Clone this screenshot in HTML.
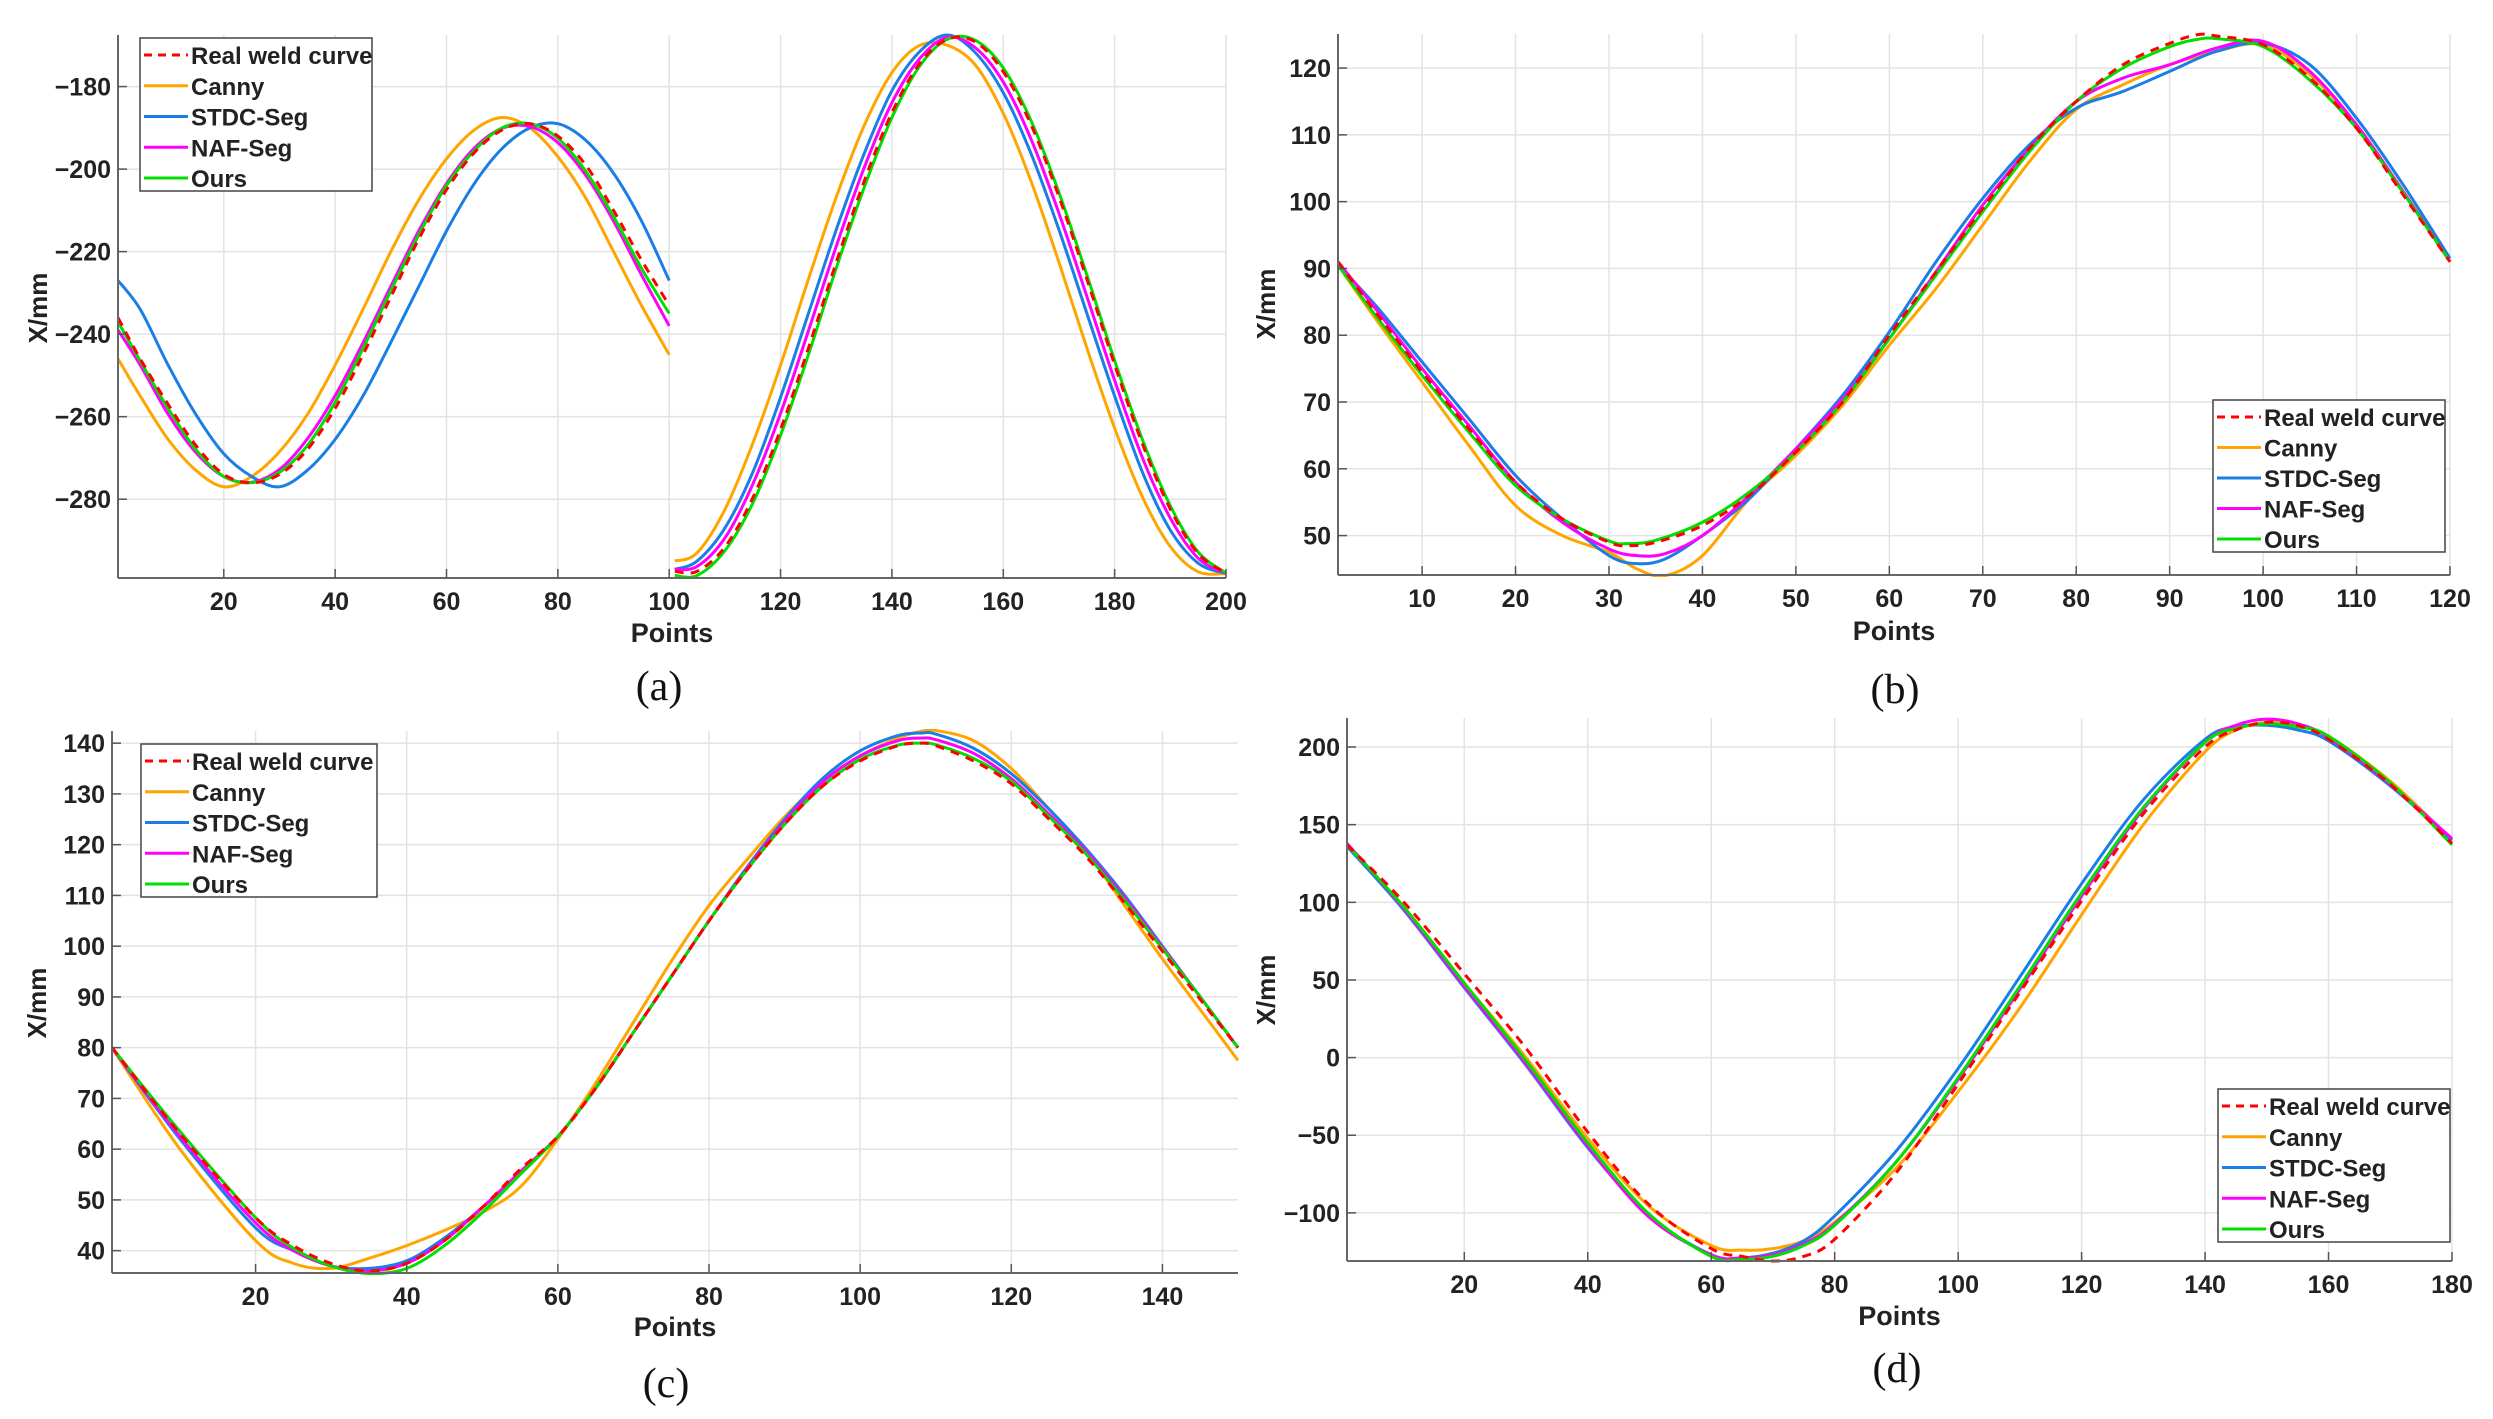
<!DOCTYPE html>
<html><head><meta charset="utf-8"><style>
html,body{margin:0;padding:0;background:#fff;}
svg{display:block;}
text{font-family:"Liberation Sans Narrow","Liberation Sans",sans-serif;font-weight:bold;fill:#222;}
</style></head><body>
<svg id="fig" width="2493" height="1419" viewBox="0 0 2493 1419" xmlns="http://www.w3.org/2000/svg"></svg>
<script>
// ---------- Panel (a) data ----------
const aX1 = [1,5,10,15,20,25,30,35,40,45,50,55,60,65,70,75,80,85,90,95,100];
const aReal1 = [-236,-246,-257,-267,-274,-276,-274,-268,-258,-245,-231,-217,-205,-196,-190.5,-189,-192,-199,-210,-222,-233];
const aCanny1 = [-246,-255,-265.5,-273,-277,-274.5,-268.5,-259.5,-247.5,-234,-220,-207.5,-197.5,-190.5,-187.5,-190,-197,-207,-220,-233,-245];
const aStdc1 = [-227,-234,-247.5,-259.5,-269,-274.5,-277,-273,-265.5,-255,-242,-228.5,-215,-203.5,-195,-190,-189,-193,-201,-212.5,-227];
const aNaf1 = [-239,-247.5,-259.4,-268.7,-274.5,-275.9,-272.8,-265.4,-254.9,-242.1,-228.4,-215,-203.5,-194.9,-190.1,-189.7,-193.6,-201.5,-212.6,-225.6,-238];
const aOurs1 = [-237,-246.5,-258,-268,-274.5,-276,-273.5,-267,-256.5,-243.5,-229.5,-216,-204,-195.5,-190,-189,-192.5,-200.5,-211.5,-224,-235];
const aX2 = [101,105,110,115,120,125,130,135,140,145,150,155,160,165,170,175,180,185,190,195,200];
const aReal2 = [-297.5,-297.5,-291.6,-279.7,-263.1,-243.4,-222.6,-203,-186.3,-174.4,-168.5,-169.2,-176.4,-189.3,-206.7,-226.6,-247.4,-266.6,-282.4,-293.2,-297.9];
const aCanny2 = [-295,-293,-282.5,-266.5,-247.5,-226.7,-206.8,-189.5,-176.6,-170,-170,-174.8,-186.5,-203,-222.6,-243.3,-262.8,-279.5,-291.5,-297.6,-298];
const aStdc2 = [-297,-295,-287,-273.5,-255.3,-235,-214.7,-196.3,-181,-171.5,-167.5,-171.8,-181.5,-196.3,-214.7,-234.9,-255,-273.5,-287.5,-295.5,-298];
const aNaf2 = [-297,-296.3,-289.4,-276.4,-259.2,-239.2,-218.7,-199.7,-183.9,-173.2,-168,-170.6,-178.9,-192.8,-210.7,-230.8,-251.2,-270,-284.6,-294.3,-298];
const aOurs2 = [-298.5,-298.5,-292.5,-281,-264.5,-245,-224,-204.5,-187.5,-175,-168.5,-168.8,-175.5,-188.3,-205.7,-225.6,-246.4,-265.6,-281.6,-292.8,-297.9];
const aXTicks = [20,40,60,80,100,120,140,160,180,200];
const aYTicks = [-280,-260,-240,-220,-200,-180];

// ---------- Panel (b) data ----------
const bXReal = [1,5,10,15,20,25,30,32,35,40,45,50,55,60,65,70,75,80,85,90,93,95,100,105,110,115,120];
const bReal = [91,83.5,74.5,66,58,52.5,49,48.5,49,51.5,56,62.5,70,80,89.5,99,108,115,120.5,123.7,125,124.8,123.5,118.5,111,101,91];
const bOurs = [90.5,83,74,65.5,57.5,52.5,49.2,48.8,49.3,52,56.5,62.5,70,79.5,89,98.5,107.5,115,120,123.2,124.3,124.4,123.2,118.2,111,101.3,91];
const bXCanny = [1,5,10,15,20,25,30,33,36,40,45,50,55,60,65,70,75,80,85,90,95,100,105,110,115,120];
const bCanny = [90.5,82.5,73,63.5,54.5,50,47.5,45,44,47,55.5,62,69.5,78.5,87,96.5,106,113.8,117.5,120.5,122.5,123.5,119,111.5,101.5,91];
const bStdc = [90.5,84.5,76,67.5,59,52.5,47,45.8,46.5,50,55.5,63,71,80.5,91,100.5,108.5,114,116.5,119.5,122.5,123.7,120.5,112.5,102.5,91.5];
const bNaf = [91,84,75,66.5,58,52,48,47,47.3,50,56,63,70.5,79.5,89.5,99.5,108,115,118.5,120.5,123,124,119.5,111.5,101.5,91];
const bXTicks = [10,20,30,40,50,60,70,80,90,100,110,120];
const bYTicks = [50,60,70,80,90,100,110,120];

// ---------- Panel (c) data ----------
const cX = [1,10,20,25,30,35,40,45,50,55,60,65,70,75,80,85,90,95,100,105,108,110,115,120,125,130,135,140,145,150];
const cReal = [80,63,46.5,41,37.5,36,37.5,42,48.5,56,62.5,72,83,94,105,115,124,131.5,136.5,139.5,140,139.5,136.5,132,125,117.5,108.5,99,89.5,80];
const cOurs = [80,63.5,46.5,40.5,37,35.5,36.5,41,47.5,55,62.5,72,83,94,105,115,124,131.5,136.8,139.6,140,139.7,137,132.5,125.5,118,109,99.5,90,80];
const cCanny = [80,60,42,37.5,36.5,38.5,41,44,47.5,52.5,62,73,85,97,108,117,125.5,132.5,137.5,141,142.3,142.5,140.5,135,127,118.5,108,97.5,87.5,77.5];
const cStdc = [80,62,44.5,40,37,36.5,38,42.5,48.5,55.5,62.5,72,83,94,105,115.5,125,133,138.5,141.5,142,141.8,139,134,127,119,110,100,90,80];
const cNaf = [80,62.5,45.5,40,37,36,37.5,42,48.5,55.5,62.5,72,83,94,105,115.2,124.5,132.3,137.5,140.5,141,140.7,138,133,126,118.5,109.5,99.8,90,80];
const cXTicks = [20,40,60,80,100,120,140];
const cYTicks = [40,50,60,70,80,90,100,110,120,130,140];

// ---------- Panel (d) data ----------
const dX = [1,10,20,30,40,50,60,65,70,75,80,90,100,110,120,130,140,145,150,155,160,170,180];
const dReal = [137,101,54,6,-48,-95,-123,-128,-131,-128,-117,-74,-17,42,101,157,200,211,216,214,205,176,138];
const dCanny = [136,98,48,0,-52,-96,-121,-124,-123,-118,-106,-71,-22,32,92,150,197,211,216,214,207,178,140];
const dStdc = [136,96,45,-5,-58,-102,-127,-129,-126,-118,-102,-60,-7,52,112,166,205,213,214,211,204,175,140];
const dNaf = [138,97,46,-4,-57,-103,-127,-129,-127,-120,-107,-67,-14,44,104,160,203,214,218,215,206,176,141];
const dOurs = [137,98,48,-2,-55,-101,-128,-130,-128,-121,-108,-67,-13,46,106,161,203,212,215,213,207,177,137];
const dXTicks = [20,40,60,80,100,120,140,160,180];
const dYTicks = [-100,-50,0,50,100,150,200];

const legendLabels = ["Real weld curve","Canny","STDC-Seg","NAF-Seg","Ours"];
const COLORS = {real:"#ff0000",canny:"#ffa500",stdc:"#1a7ee6",naf:"#ff00ff",ours:"#00e000"};

const NS = "http://www.w3.org/2000/svg";
const svg = document.getElementById('fig');
function mk(tag, attrs, parent){
  const e = document.createElementNS(NS, tag);
  for (const k in attrs) e.setAttribute(k, attrs[k]);
  (parent||svg).appendChild(e);
  return e;
}
function smoothPath(pts){
  let d = "M"+pts[0][0].toFixed(2)+","+pts[0][1].toFixed(2);
  for (let i=0;i<pts.length-1;i++){
    const p0=pts[Math.max(0,i-1)], p1=pts[i], p2=pts[i+1], p3=pts[Math.min(pts.length-1,i+2)];
    const c1x=p1[0]+(p2[0]-p0[0])/6, c1y=p1[1]+(p2[1]-p0[1])/6;
    const c2x=p2[0]-(p3[0]-p1[0])/6, c2y=p2[1]-(p3[1]-p1[1])/6;
    d += " C"+c1x.toFixed(2)+","+c1y.toFixed(2)+" "+c2x.toFixed(2)+","+c2y.toFixed(2)+" "+p2[0].toFixed(2)+","+p2[1].toFixed(2);
  }
  return d;
}

function panel(cfg){
  const g = mk('g', {});
  
  
  const L=cfg.L, R=cfg.R, T=cfg.T, B=cfg.B;
  const sx = v => L + (v-cfg.xmin)/(cfg.xmax-cfg.xmin)*(R-L);
  const sy = v => B - (v-cfg.ymin)/(cfg.ymax-cfg.ymin)*(B-T);
  cfg.xTicks.forEach(t=>{
    const ln = mk('line',{x1:sx(t),x2:sx(t),y1:T,y2:B,stroke:"#e3e3e3","stroke-width":1.5},g);
    
    
  });
  cfg.yTicks.forEach(t=>{
    const ln = mk('line',{x1:L,x2:R,y1:sy(t),y2:sy(t),stroke:"#e3e3e3","stroke-width":1.5},g);
    
    
  });
  const cid = cfg.name+"-clip";
  const cp = mk('clipPath',{id:cid},g);
  mk('rect',{x:L,y:T-2,width:R-L+2,height:B-T+4},cp);
  const sg = mk('g',{"clip-path":"url(#"+cid+")"},g);
  cfg.series.forEach(s=>{
    const pts = s.x.map((xv,i)=>[sx(xv), sy(s.y[i])]);
    const p = mk('path',{d:smoothPath(pts),fill:"none",stroke:COLORS[s.key],"stroke-width":3,"stroke-linejoin":"round"},sg);
    if (s.key==='real') p.setAttribute('stroke-dasharray','9,7');
    
    
  });
  const ax = mk('line',{x1:L,x2:R,y1:B,y2:B,stroke:"#666","stroke-width":2},g);
  
  
  const ay = mk('line',{x1:L,x2:L,y1:T,y2:B,stroke:"#666","stroke-width":2},g);
  
  
  cfg.xTicks.forEach(t=>{
    mk('line',{x1:sx(t),x2:sx(t),y1:B,y2:B-9,stroke:"#555","stroke-width":1.5},g);
    const tx = mk('text',{x:sx(t),y:B+32,"text-anchor":"middle","font-size":25},g);
    tx.textContent = t;
    
    
  });
  cfg.yTicks.forEach(t=>{
    mk('line',{x1:L,x2:L+9,y1:sy(t),y2:sy(t),stroke:"#555","stroke-width":1.5},g);
    const tx = mk('text',{x:L-7,y:sy(t)+9,"text-anchor":"end","font-size":25},g);
    tx.textContent = (t<0?"\u2212"+Math.abs(t):t);
    
    
  });
  const xl = mk('text',{x:(L+R)/2,y:cfg.xlabY,"text-anchor":"middle","font-size":27},g);
  xl.textContent = "Points";
  
  
  const yl = mk('text',{x:0,y:0,"text-anchor":"middle","font-size":26,transform:"translate("+cfg.ylab[0]+","+cfg.ylab[1]+") rotate(-90)",style:"font-family:'Liberation Sans',sans-serif"},g);
  yl.textContent = "X/mm";
  
  
  const cap = mk('text',{x:cfg.cap[0],y:cfg.cap[1],"text-anchor":"middle","font-size":42,style:"font-family:'Liberation Serif',serif;font-weight:normal;fill:#111"},g);
  cap.textContent = cfg.capText;
  
  
  const lg = cfg.leg;
  const lgG = mk('g',{},g);
  
  
  mk('rect',{x:lg[0],y:lg[1],width:lg[2]-lg[0],height:lg[3]-lg[1],fill:"#fff",stroke:"#444","stroke-width":1.5},lgG);
  const keys=['real','canny','stdc','naf','ours'];
  const step=(lg[3]-lg[1]-30)/4;
  keys.forEach((k,i)=>{
    const y = lg[1]+17+i*step;
    const l = mk('line',{x1:lg[0]+4,x2:lg[0]+48,y1:y,y2:y,stroke:COLORS[k],"stroke-width":3},lgG);
    if (k==='real') l.setAttribute('stroke-dasharray','8,6');
    const t = mk('text',{x:lg[0]+51,y:y+9,"font-size":24},lgG);
    t.textContent = legendLabels[i];
    
    
  });
}

panel({name:"panel-a",L:118,R:1226,T:35,B:578,xmin:1,xmax:200,ymin:-299.1,ymax:-167.5,
  xTicks:aXTicks,yTicks:aYTicks,xlabY:642,ylab:[47,308],cap:[659,700],capText:"(a)",leg:[140,38,372,191],
  series:[
    {key:'canny',x:aX1,y:aCanny1},{key:'canny',x:aX2,y:aCanny2},
    {key:'stdc',x:aX1,y:aStdc1},{key:'stdc',x:aX2,y:aStdc2},
    {key:'naf',x:aX1,y:aNaf1},{key:'naf',x:aX2,y:aNaf2},
    {key:'ours',x:aX1,y:aOurs1},{key:'ours',x:aX2,y:aOurs2},
    {key:'real',x:aX1,y:aReal1},{key:'real',x:aX2,y:aReal2}]});
panel({name:"panel-b",L:1338,R:2450,T:34,B:575,xmin:1,xmax:120,ymin:44.1,ymax:125.1,
  xTicks:bXTicks,yTicks:bYTicks,xlabY:640,ylab:[1275,304],cap:[1895,703],capText:"(b)",leg:[2213,400,2445,552],
  series:[
    {key:'canny',x:bXCanny,y:bCanny},{key:'stdc',x:bXCanny,y:bStdc},{key:'naf',x:bXCanny,y:bNaf},
    {key:'ours',x:bXReal,y:bOurs},{key:'real',x:bXReal,y:bReal}]});
panel({name:"panel-c",L:112,R:1238,T:731,B:1273,xmin:1,xmax:150,ymin:35.6,ymax:142.4,
  xTicks:cXTicks,yTicks:cYTicks,xlabY:1336,ylab:[46,1003],cap:[666,1397],capText:"(c)",leg:[141,744,377,897],
  series:[
    {key:'canny',x:cX,y:cCanny},{key:'stdc',x:cX,y:cStdc},{key:'naf',x:cX,y:cNaf},
    {key:'ours',x:cX,y:cOurs},{key:'real',x:cX,y:cReal}]});
panel({name:"panel-d",L:1347,R:2452,T:718,B:1261,xmin:1,xmax:180,ymin:-131,ymax:218.7,
  xTicks:dXTicks,yTicks:dYTicks,xlabY:1325,ylab:[1275,990],cap:[1897,1382],capText:"(d)",leg:[2218,1089,2450,1242],
  series:[
    {key:'canny',x:dX,y:dCanny},{key:'stdc',x:dX,y:dStdc},{key:'naf',x:dX,y:dNaf},
    {key:'ours',x:dX,y:dOurs},{key:'real',x:dX,y:dReal}]});
</script>
</body></html>
